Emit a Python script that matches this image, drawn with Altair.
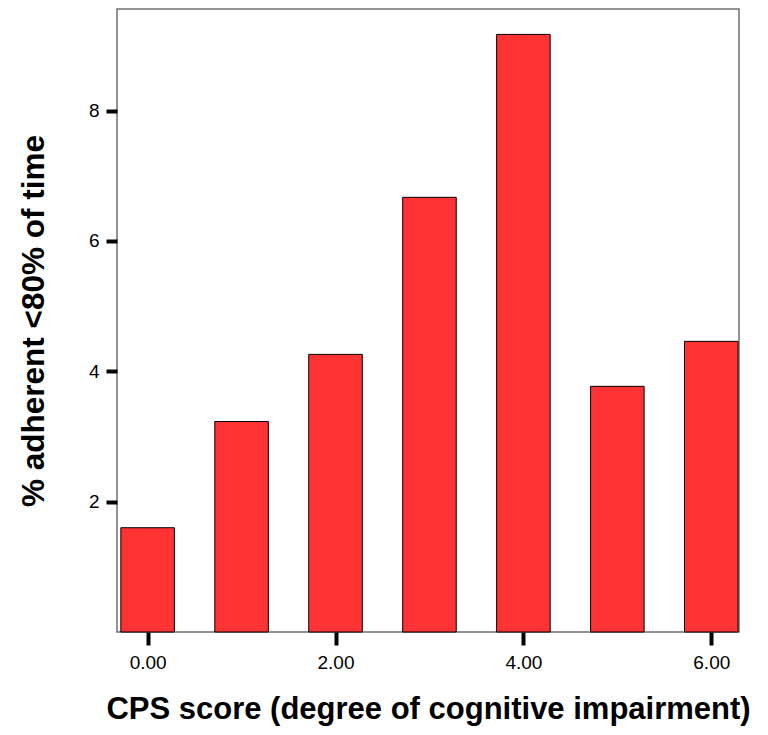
import altair as alt
import pandas as pd

cps = [0, 1, 2, 3, 4, 5, 6]
pct = [1.60, 3.23, 4.26, 6.67, 9.17, 3.77, 4.46]
x_ticks = [0, 2, 4, 6]
y_ticks = [2, 4, 6, 8]

df = pd.DataFrame({"cps": cps, "pct": pct})

FONT = "Liberation Sans"

chart = (
    alt.Chart(df)
    .transform_calculate(x0="datum.cps - 0.285", x1="datum.cps + 0.285")
    .mark_bar(color="#FF3333", stroke="black", strokeWidth=1)
    .encode(
        x=alt.X(
            "x0:Q",
            scale=alt.Scale(domain=[-0.326, 6.295], nice=False, zero=False),
            axis=alt.Axis(
                values=x_ticks,
                format=".2f",
                title="CPS score (degree of cognitive impairment)",
                grid=False,
                domain=False,
                tickSize=13,
                tickWidth=4,
                tickColor="black",
                labelFont=FONT,
                labelFontSize=19,
                labelColor="black",
                labelPadding=8,
                titleFont=FONT,
                titleFontSize=31,
                titleFontWeight="bold",
                titleColor="black",
                titleBaseline="alphabetic",
                titleY=86,
            ),
        ),
        x2="x1:Q",
        y=alt.Y(
            "pct:Q",
            scale=alt.Scale(domain=[0, 9.56], nice=False),
            axis=alt.Axis(
                values=y_ticks,
                format="d",
                title="% adherent <80% of time",
                grid=False,
                domain=False,
                tickSize=11,
                tickWidth=4,
                tickColor="black",
                labelFont=FONT,
                labelFontSize=19,
                labelColor="black",
                labelPadding=7,
                titleFont=FONT,
                titleFontSize=31.5,
                titleFontWeight="bold",
                titleColor="black",
                titlePadding=38,
            ),
        ),
        y2=alt.datum(0),
    )
    .properties(
        width=622,
        height=623,
        autosize=alt.AutoSizeParams(type="none"),
        padding={"left": 109, "top": 1, "right": 21, "bottom": 95},
    )
    .configure_view(stroke="#707070", strokeWidth=1.5)
)

chart.save("out.html", embed_options={"renderer": "svg", "actions": False})
